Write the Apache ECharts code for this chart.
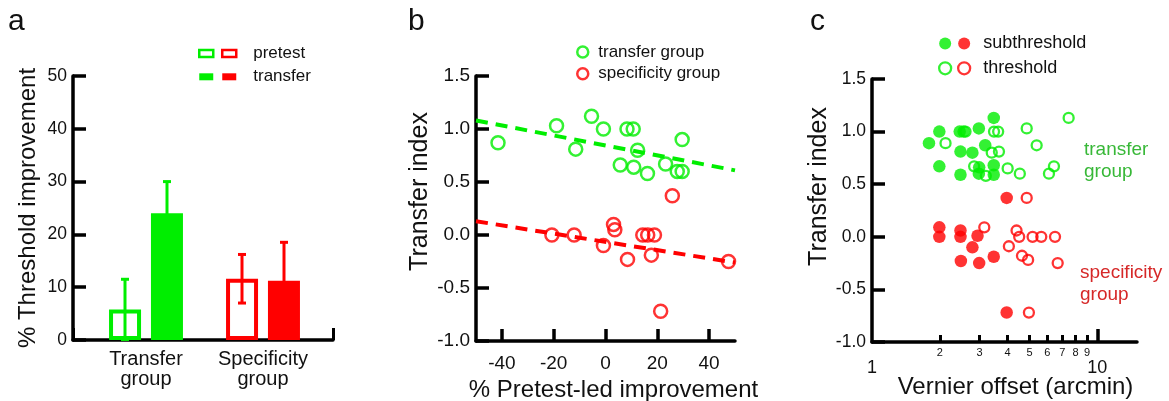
<!DOCTYPE html>
<html>
<head>
<meta charset="utf-8">
<script src="https://cdn.jsdelivr.net/npm/echarts@6.0.0/dist/echarts.min.js"></script>
<style>
  html, body { margin: 0; padding: 0; background: #fff; }
  #chart { width: 1169px; height: 401px; }
</style>
</head>
<body>
<div id="chart"></div>
<script>
// panel a: mean % threshold improvement with SEM
const groups = ['Transfer\ngroup', 'Specificity\ngroup']
const pretestMean = [5.8, 11.6]
const pretestErr = [5.7, 4.6]
const transferMean = [24.0, 11.2]
const transferErr = [6.0, 7.3]

// panel b: transfer index vs pretest-led improvement
const transferGroupX = [-41.5, -18.9, -5.4, -0.8, -11.5, 8.3, 10.7, 12.4, 5.7, 10.9, 16.2, 23.2, 27.7, 29.6, 29.6]
const transferGroupY = [0.87, 1.03, 1.12, 1.0, 0.81, 1.0, 1.0, 0.8, 0.66, 0.64, 0.58, 0.67, 0.6, 0.6, 0.9]
const specificityGroupX = [25.8, -20.7, -12.1, -0.8, 3.1, 3.6, 8.5, 14.4, 16.3, 18.9, 17.7, 47.5, 21.3]
const specificityGroupY = [0.37, 0, 0, -0.1, 0.1, 0.05, -0.23, 0, 0, 0, -0.19, -0.25, -0.72]
const fitX = [-50, 50]
const transferFitY = [1.08, 0.61]
const specificityFitY = [0.13, -0.26]

// panel c: transfer index vs vernier offset (arcmin)
const transferSubX = [1.79, 1.99, 1.99, 2.45, 2.55, 2.47, 2.47, 2.79, 2.98, 3.18, 2.99, 2.98, 3.47, 3.47, 3.47]
const transferSubY = [0.89, 1.0, 0.67, 1.0, 1.0, 0.81, 0.59, 0.8, 1.03, 0.87, 0.66, 0.6, 1.13, 0.68, 0.59]
const transferThrX = [2.12, 2.6, 3.48, 3.63, 4.86, 7.46, 5.38, 3.4, 3.66, 2.84, 3.2, 4.0, 4.53, 6.42, 6.1]
const transferThrY = [0.89, 1.0, 1.0, 1.0, 1.03, 1.13, 0.87, 0.8, 0.81, 0.67, 0.58, 0.65, 0.6, 0.67, 0.6]
const specSubX = [3.96, 1.99, 1.99, 2.47, 2.47, 2.94, 2.79, 2.48, 2.99, 3.47, 3.96]
const specSubY = [0.37, 0.09, 0.0, 0.06, 0.0, 0.01, -0.1, -0.23, -0.25, -0.19, -0.72]
const specThrX = [4.86, 3.15, 4.38, 4.5, 5.16, 5.64, 6.49, 4.05, 4.63, 4.93, 6.67, 4.97]
const specThrY = [0.37, 0.09, 0.06, 0.0, 0.0, 0.0, 0.0, -0.09, -0.18, -0.22, -0.25, -0.72]
const minorTicks = [2, 3, 4, 5, 6, 7, 8, 9]
const majorTicks = [1, 10]

const G = '#00ee00'
const R = '#ff0000'
const groupColors = [G, R]
const ink = '#111'
const font = 'Liberation Sans, Arial, sans-serif'
const barOffset = 21

const pairs = (xs, ys) => xs.map((x, i) => [x, ys[i]])
const hollow = 'rgba(0,0,0,0)'

function errorBars(means, errs, side) {
  return {
    type: 'custom',
    xAxisIndex: 0,
    yAxisIndex: 0,
    z: 5,
    silent: true,
    data: means.map((m, i) => [i, m, errs[i]]),
    renderItem(params, api) {
      const i = api.value(0)
      const m = api.value(1)
      const e = api.value(2)
      const top = api.coord([i, m + e])
      const bot = api.coord([i, m - e])
      const x = top[0] + side * barOffset
      const style = { stroke: groupColors[i], lineWidth: 3 }
      return {
        type: 'group',
        children: [
          { type: 'line', shape: { x1: x, y1: top[1], x2: x, y2: bot[1] }, style },
          { type: 'line', shape: { x1: x - 4, y1: top[1], x2: x + 4, y2: top[1] }, style },
          { type: 'line', shape: { x1: x - 4, y1: bot[1], x2: x + 4, y2: bot[1] }, style }
        ]
      }
    }
  }
}

const axisLine = { show: true, onZero: false, lineStyle: { color: '#000', width: 3.5 } }
const noLine = { show: false, onZero: false }
const yTicks = { show: true, inside: true, length: 13, lineStyle: { color: '#000', width: 3.5 } }
const fmt1 = (v) => v.toFixed(1)
const pow10 = (v) => String(Math.round(10 ** v))

const chart = echarts.init(document.getElementById('chart'))

chart.setOption({
  animation: false,
  textStyle: { fontFamily: font },
  grid: [
    { left: 87.5, top: 76, width: 234, height: 264, outerBoundsMode: 'none' },
    { left: 73, top: 76, width: 260, height: 264, outerBoundsMode: 'none' },
    { left: 476, top: 76, width: 259, height: 265, outerBoundsMode: 'none' },
    { left: 872, top: 79, width: 265, height: 263, outerBoundsMode: 'none' }
  ],
  xAxis: [
    {
      gridIndex: 0, type: 'category', data: groups,
      axisLine: noLine, axisTick: { show: false },
      axisLabel: { color: ink, fontSize: 20, lineHeight: 20, margin: 9, interval: 0, hideOverlap: false }
    },
    {
      gridIndex: 1, type: 'value', min: 0, max: 1, interval: 1,
      axisLine, splitLine: { show: false }, axisLabel: { show: false },
      axisTick: { show: true, inside: true, length: 12, lineStyle: { color: '#000', width: 3 } }
    },
    {
      gridIndex: 2, type: 'value', min: -50, max: 50,
      axisLine, splitLine: { show: false },
      axisTick: { show: true, inside: true, length: 12, customValues: [-40, -20, 0, 20, 40], lineStyle: { color: '#000', width: 3.5 } },
      axisLabel: { color: ink, fontSize: 19, margin: 13, customValues: [-40, -20, 0, 20, 40] },
      name: '% Pretest-led improvement', nameLocation: 'middle', nameGap: 36,
      nameTextStyle: { color: ink, fontSize: 24, padding: [0, 0, 0, 16] }
    },
    {
      gridIndex: 3, type: 'log', logBase: 10, min: 1, max: 15,
      axisLine, splitLine: { show: false }, minorTick: { show: false },
      axisTick: { show: false }, axisLabel: { show: false },
      name: 'Vernier offset (arcmin)', nameLocation: 'middle', nameGap: 33,
      nameTextStyle: { color: ink, fontSize: 24, padding: [0, 0, 0, 22] }
    },
    {
      gridIndex: 3, type: 'value', min: 0, max: Math.log10(15), position: 'bottom',
      axisLine: noLine, splitLine: { show: false },
      axisTick: { show: true, inside: true, length: 7, customValues: minorTicks.map(Math.log10), lineStyle: { color: '#000', width: 3 } },
      axisLabel: { color: ink, fontSize: 11, margin: 5, customValues: minorTicks.map(Math.log10), formatter: pow10 }
    },
    {
      gridIndex: 3, type: 'value', min: 0, max: Math.log10(15), position: 'bottom',
      axisLine: noLine, splitLine: { show: false },
      axisTick: { show: true, inside: true, length: 13, customValues: [1], lineStyle: { color: '#000', width: 3.5 } },
      axisLabel: { color: ink, fontSize: 18, margin: 17, customValues: majorTicks.map(Math.log10), formatter: pow10 }
    }
  ],
  yAxis: [
    { gridIndex: 0, type: 'value', min: 0, max: 50, show: false },
    {
      gridIndex: 1, type: 'value', min: 0, max: 50, interval: 10,
      axisLine, axisTick: yTicks, splitLine: { show: false },
      axisLabel: { color: ink, fontSize: 17.5, margin: 6 },
      name: '% Threshold improvement', nameLocation: 'middle', nameGap: 33,
      nameTextStyle: { color: ink, fontSize: 24 }
    },
    {
      gridIndex: 2, type: 'value', min: -1, max: 1.5, interval: 0.5,
      axisLine, axisTick: yTicks, splitLine: { show: false },
      axisLabel: { color: ink, fontSize: 19, margin: 6, formatter: fmt1 },
      name: 'Transfer index', nameLocation: 'middle', nameGap: 43,
      nameTextStyle: { color: ink, fontSize: 25, padding: [0, 0, 0, 34] }
    },
    {
      gridIndex: 3, type: 'value', min: -1, max: 1.5, interval: 0.5,
      axisLine, axisTick: yTicks, splitLine: { show: false },
      axisLabel: { color: ink, fontSize: 17.5, margin: 6, formatter: fmt1 },
      name: 'Transfer index', nameLocation: 'middle', nameGap: 39,
      nameTextStyle: { color: ink, fontSize: 25, padding: [0, 0, 0, 48] }
    }
  ],
  legend: [
    {
      left: 198, top: 43.5, padding: 0, orient: 'vertical', selectedMode: false,
      itemWidth: 14, itemHeight: 7, itemGap: 3.3, formatter: () => ' ',
      textStyle: { fontSize: 17, lineHeight: 20 },
      data: [
        { name: 'pretest', icon: 'rect', itemStyle: { color: '#fff', borderColor: G, borderWidth: 2.5 } },
        { name: 'transfer', icon: 'rect', itemStyle: { color: G, borderWidth: 0 } }
      ]
    },
    {
      left: 221, top: 43.5, padding: 0, orient: 'vertical', selectedMode: false,
      itemWidth: 14, itemHeight: 7, itemGap: 3.3,
      textStyle: { color: ink, fontSize: 17, lineHeight: 20, padding: [0, 0, 0, 12] },
      data: [
        { name: 'pretest', icon: 'rect', itemStyle: { color: '#fff', borderColor: R, borderWidth: 2.5 } },
        { name: 'transfer', icon: 'rect', itemStyle: { color: R, borderWidth: 0 } }
      ]
    },
    {
      left: 576, top: 42, padding: 0, orient: 'vertical', selectedMode: false,
      itemWidth: 11, itemHeight: 11, itemGap: 1.7,
      textStyle: { color: ink, fontSize: 17, lineHeight: 20, padding: [0, 0, 0, 5] },
      data: [
        { name: 'transfer group', icon: 'circle', itemStyle: { color: '#fff', borderColor: G, borderWidth: 2.5 } },
        { name: 'specificity group', icon: 'circle', itemStyle: { color: '#fff', borderColor: R, borderWidth: 2.5 } }
      ]
    },
    {
      left: 938, top: 33.5, padding: 0, orient: 'vertical', selectedMode: false,
      itemWidth: 12, itemHeight: 12, itemGap: 4.8, formatter: () => ' ',
      textStyle: { fontSize: 18, lineHeight: 20 },
      data: [
        { name: 'subthreshold', icon: 'circle', itemStyle: { color: G, borderWidth: 0 } },
        { name: 'threshold', icon: 'circle', itemStyle: { color: '#fff', borderColor: G, borderWidth: 2.3 } }
      ]
    },
    {
      left: 957, top: 33.5, padding: 0, orient: 'vertical', selectedMode: false,
      itemWidth: 12, itemHeight: 12, itemGap: 4.8,
      textStyle: { color: ink, fontSize: 18, lineHeight: 20, padding: [0, 0, 0, 8] },
      data: [
        { name: 'subthreshold', icon: 'circle', itemStyle: { color: R, borderWidth: 0 } },
        { name: 'threshold', icon: 'circle', itemStyle: { color: '#fff', borderColor: R, borderWidth: 2.3 } }
      ]
    }
  ],
  graphic: [
    { type: 'text', left: 8, top: 7, style: { text: 'a', font: '30px ' + font, fill: ink } },
    { type: 'text', left: 408, top: 7, style: { text: 'b', font: '30px ' + font, fill: ink } },
    { type: 'text', left: 810, top: 7, style: { text: 'c', font: '30px ' + font, fill: ink } },
    { type: 'text', left: 1084, top: 139, style: { text: 'transfer\ngroup', font: '19px ' + font, lineHeight: 22, fill: '#38b838' } },
    { type: 'text', left: 1080, top: 262, style: { text: 'specificity\ngroup', font: '19px ' + font, lineHeight: 22, fill: '#d62828' } }
  ],
  series: [
    {
      name: 'pretest', type: 'bar', xAxisIndex: 0, yAxisIndex: 0,
      barWidth: 32, barGap: '31%', silent: true,
      itemStyle: { borderWidth: 4 },
      data: pretestMean.map((v, i) => ({ value: v, itemStyle: { color: '#fff', borderColor: groupColors[i] } }))
    },
    {
      name: 'transfer', type: 'bar', xAxisIndex: 0, yAxisIndex: 0,
      barWidth: 32, barGap: '31%', silent: true,
      itemStyle: { borderWidth: 4 },
      data: transferMean.map((v, i) => ({ value: v, itemStyle: { color: groupColors[i], borderColor: groupColors[i] } }))
    },
    errorBars(pretestMean, pretestErr, -1),
    errorBars(transferMean, transferErr, 1),
    {
      name: 'transfer fit', type: 'line', xAxisIndex: 2, yAxisIndex: 2, showSymbol: false, silent: true,
      lineStyle: { color: G, width: 4, type: [12, 8] },
      data: pairs(fitX, transferFitY)
    },
    {
      name: 'specificity fit', type: 'line', xAxisIndex: 2, yAxisIndex: 2, showSymbol: false, silent: true,
      lineStyle: { color: R, width: 4, type: [12, 8] },
      data: pairs(fitX, specificityFitY)
    },
    {
      name: 'transfer group', type: 'scatter', xAxisIndex: 2, yAxisIndex: 2, symbolSize: 13, silent: true,
      itemStyle: { color: hollow, borderColor: G, borderWidth: 2.5 },
      data: pairs(transferGroupX, transferGroupY)
    },
    {
      name: 'specificity group', type: 'scatter', xAxisIndex: 2, yAxisIndex: 2, symbolSize: 13, silent: true,
      itemStyle: { color: hollow, borderColor: R, borderWidth: 2.5 },
      data: pairs(specificityGroupX, specificityGroupY)
    },
    {
      name: 'subthreshold', type: 'scatter', xAxisIndex: 3, yAxisIndex: 3, symbolSize: 12.5, silent: true,
      itemStyle: { color: G },
      data: pairs(transferSubX, transferSubY)
    },
    {
      name: 'subthreshold', type: 'scatter', xAxisIndex: 3, yAxisIndex: 3, symbolSize: 12.5, silent: true,
      itemStyle: { color: R },
      data: pairs(specSubX, specSubY)
    },
    {
      name: 'threshold', type: 'scatter', xAxisIndex: 3, yAxisIndex: 3, symbolSize: 10, silent: true,
      itemStyle: { color: hollow, borderColor: G, borderWidth: 2.3 },
      data: pairs(transferThrX, transferThrY)
    },
    {
      name: 'threshold', type: 'scatter', xAxisIndex: 3, yAxisIndex: 3, symbolSize: 10, silent: true,
      itemStyle: { color: hollow, borderColor: R, borderWidth: 2.3 },
      data: pairs(specThrX, specThrY)
    }
  ]
})
</script>
</body>
</html>
